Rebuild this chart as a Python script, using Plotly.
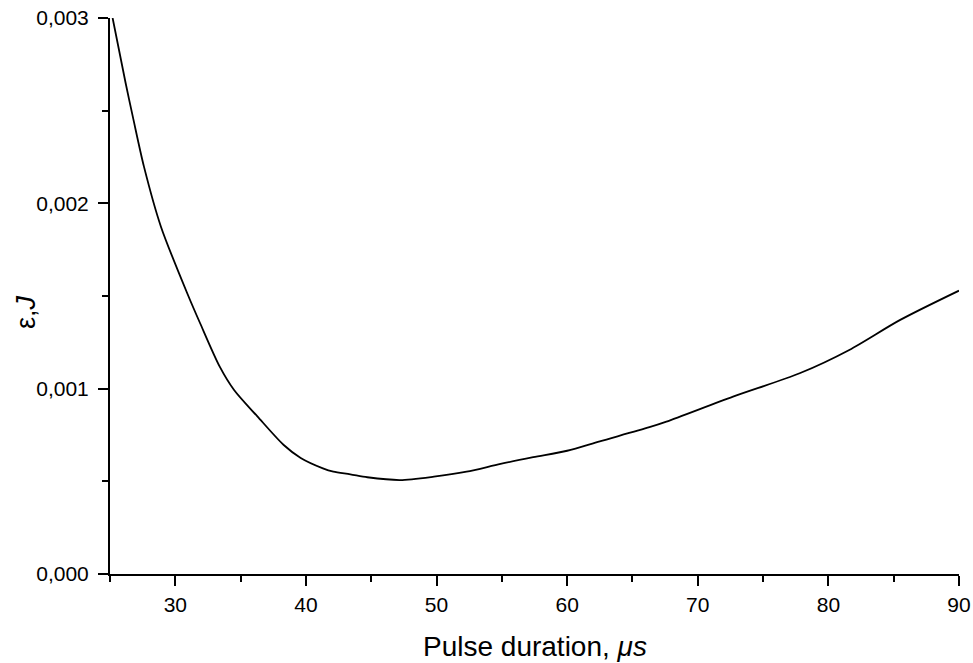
import plotly.graph_objects as go

pulse_duration = [25.2, 26.2, 26.8, 27.6, 28.9, 31.0, 31.9, 33.4, 34.5, 36.3, 38.3,
                  39.6, 41.3, 42.1, 43.4, 44.7, 47.2, 49.8, 52.3, 54.9, 57.4, 60.0, 62.5,
                  66.3, 67.6, 72.7, 77.8, 81.6, 85.5, 90.0]
energy = [0.00300, 0.002648, 0.002450, 0.002198, 0.001874, 0.001500, 0.001353,
          0.001119, 0.000993, 0.000849, 0.000696, 0.000626, 0.000570, 0.000552, 0.000538,
          0.000522, 0.000507, 0.000525, 0.000552, 0.000594, 0.000630, 0.000665, 0.000716,
          0.000792, 0.000822, 0.000957, 0.001083, 0.001209, 0.001371, 0.001529]

x_ticks = [30, 40, 50, 60, 70, 80, 90]
y_ticks = [0.000, 0.001, 0.002, 0.003]

x_title = "Pulse duration, <i>μs</i>"
y_title = "ε,<i>J</i>"

fig = go.Figure()
fig.add_trace(go.Scatter(x=pulse_duration, y=energy, mode="lines",
                         line=dict(color="black", width=1.8, shape="spline", smoothing=0.8),
                         showlegend=False, hoverinfo="skip"))

font_family = "Liberation Sans, Arial, sans-serif"

fig.update_layout(
    width=973, height=663,
    margin=dict(l=110, r=14, t=18, b=89),
    paper_bgcolor="white", plot_bgcolor="white",
    separators=", ",
    font=dict(size=21, family=font_family, color="black"),
)
fig.update_xaxes(
    range=[25, 90], tickvals=x_ticks, ticks="outside", ticklen=10, tickwidth=2,
    tickcolor="black", showline=True, linecolor="black", linewidth=2,
    showgrid=False, zeroline=False, tickfont=dict(size=21), automargin=False,
    ticklabelstandoff=1,
    minor=dict(ticks="outside", ticklen=6, tickwidth=2, tickcolor="black", dtick=5, tick0=25),
)
fig.update_yaxes(
    range=[0, 0.003], tickvals=y_ticks, tickformat=".3f", ticks="outside", ticklen=10,
    tickwidth=2, tickcolor="black", showline=True, linecolor="black", linewidth=2,
    showgrid=False, zeroline=False, tickfont=dict(size=21), automargin=False,
    ticklabelstandoff=5,
    minor=dict(ticks="outside", ticklen=6, tickwidth=2, tickcolor="black", dtick=0.0005, tick0=0),
)

fig.add_annotation(text=x_title, xref="paper", yref="paper", x=0.5, y=-0.1295,
                   xanchor="center", yanchor="middle", showarrow=False,
                   font=dict(size=28, family=font_family, color="black"))
fig.add_annotation(text=y_title, xref="paper", yref="paper", x=-0.099, y=0.471,
                   xanchor="center", yanchor="middle", textangle=-90, showarrow=False,
                   font=dict(size=27, family=font_family, color="black"))

fig.write_html(
    "out.html",
    config={"displayModeBar": False},
    post_script="document.body.style.margin='0';document.body.style.padding='0';"
                "document.body.style.overflow='hidden';",
)
